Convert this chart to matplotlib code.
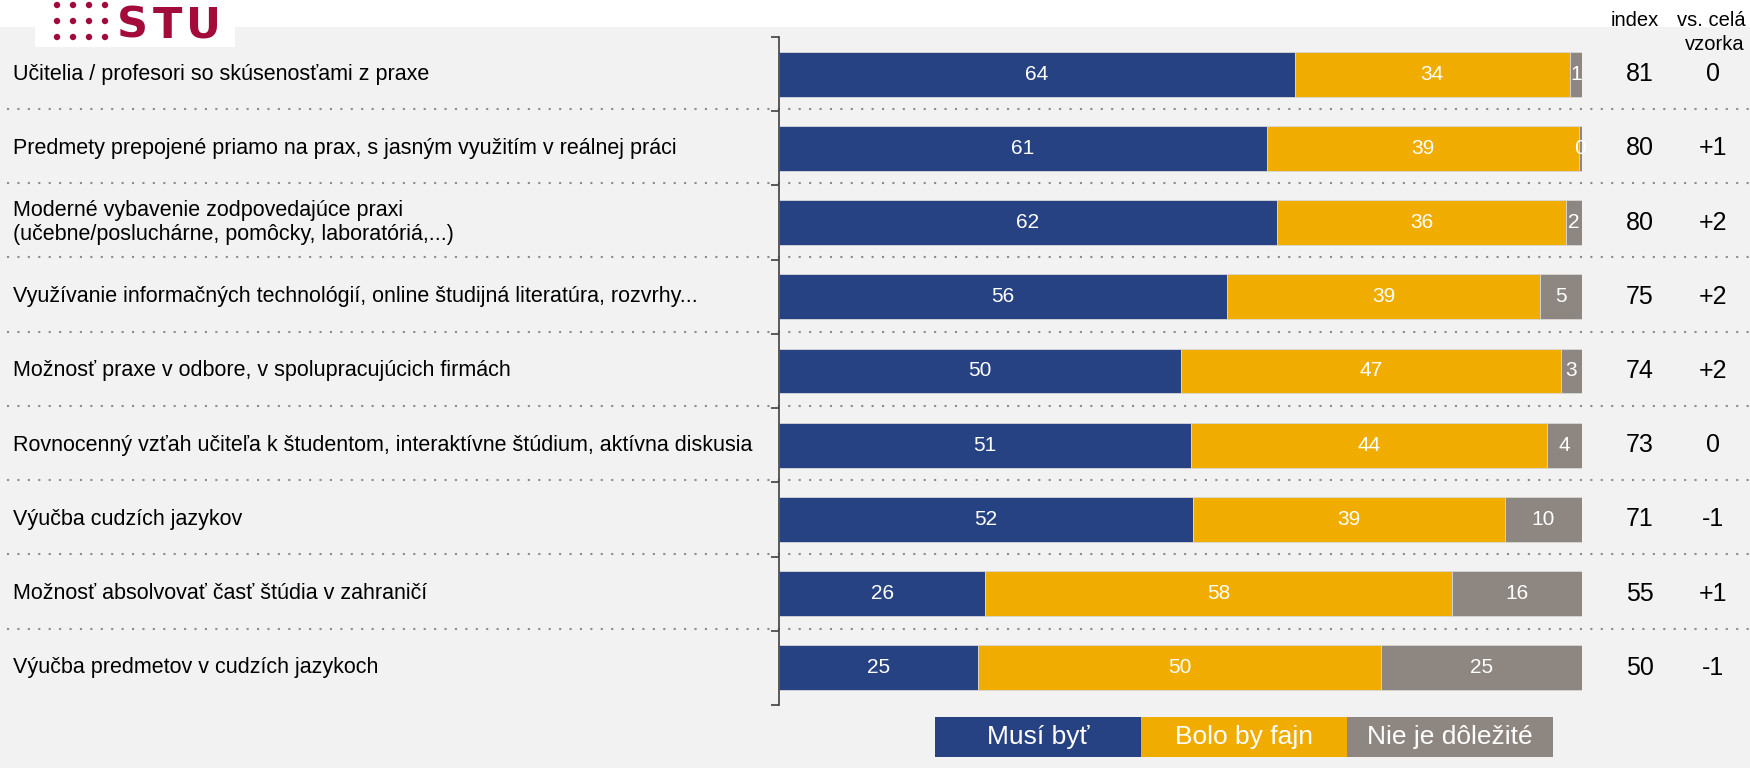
import matplotlib
matplotlib.use("Agg")
import matplotlib.pyplot as plt
from matplotlib.patches import Rectangle, Circle
from matplotlib.transforms import blended_transform_factory

plt.rcParams['font.family'] = ['Liberation Sans', 'DejaVu Sans']

categories = [
    "Učitelia / profesori so skúsenosťami z praxe",
    "Predmety prepojené priamo na prax, s jasným využitím v reálnej práci",
    "Moderné vybavenie zodpovedajúce praxi\n(učebne/posluchárne, pomôcky, laboratóriá,...)",
    "Využívanie informačných technológií, online študijná literatúra, rozvrhy...",
    "Možnosť praxe v odbore, v spolupracujúcich firmách",
    "Rovnocenný vzťah učiteľa k študentom, interaktívne štúdium, aktívna diskusia",
    "Výučba cudzích jazykov",
    "Možnosť absolvovať časť štúdia v zahraničí",
    "Výučba predmetov v cudzích jazykoch",
]
# bar widths (unrounded shares, %)
musi = [64.2, 60.8, 62.0, 55.8, 50.0, 51.3, 51.6, 25.7, 24.8]
bolo = [34.3, 38.8, 36.0, 39.0, 47.4, 44.3, 38.8, 58.1, 50.2]
nie = [1.5, 0.4, 2.0, 5.2, 2.6, 4.4, 9.6, 16.2, 25.0]
# printed labels
musi_lbl = [64, 61, 62, 56, 50, 51, 52, 26, 25]
bolo_lbl = [34, 39, 36, 39, 47, 44, 39, 58, 50]
nie_lbl = [1, 0, 2, 5, 3, 4, 10, 16, 25]
index_vals = [81, 80, 80, 75, 74, 73, 71, 55, 50]
vs_vals = ["0", "+1", "+2", "+2", "+2", "0", "-1", "+1", "-1"]
legend_labels = ["Musí byť", "Bolo by fajn", "Nie je dôležité"]

c_blue = "#264283"
c_yellow = "#f0ad00"
c_gray = "#8e8680"
colors = [c_blue, c_yellow, c_gray]

W, H = 1750, 768
fig = plt.figure(figsize=(W / 100, H / 100), dpi=100)
fig.patch.set_facecolor("#f2f2f2")

def fx(px):
    return px / W

def fy(py):
    return 1 - py / H

# background overlay in pixel coordinates
bg = fig.add_axes([0, 0, 1, 1], zorder=0)
bg.set_xlim(0, W)
bg.set_ylim(H, 0)
bg.axis("off")
bg.add_patch(Rectangle((0, 0), W, 27, facecolor="white", edgecolor="none"))
bg.add_patch(Rectangle((35, 0), 200, 47, facecolor="white", edgecolor="none"))
logo_c = "#a30b3b"
for cx in (57, 73, 89, 105):
    for cy in (5, 21, 37):
        bg.add_patch(Circle((cx, cy), 3.2, facecolor=logo_c, edgecolor="none"))
for letter, cx in zip("STU", (132, 167, 203)):
    bg.text(cx, 38, letter, ha="center", va="baseline", fontsize=31,
            fontweight="bold", color=logo_c, family=["DejaVu Sans"])

ax_left, ax_right, ax_top, ax_bot = 779, 1582, 37, 705
ax = fig.add_axes([fx(ax_left), fy(ax_bot), (ax_right - ax_left) / W, (ax_bot - ax_top) / H],
                  zorder=1)
ax.set_facecolor("none")
n = len(categories)
ypos = list(range(n))
bh = 0.605

left = [0.0] * n
for vals, lbls, col in zip((musi, bolo, nie), (musi_lbl, bolo_lbl, nie_lbl), colors):
    bars = ax.barh(ypos, vals, left=left, height=bh, color=col, edgecolor="#d8d8d8",
                   linewidth=0.6, zorder=2)
    for b, lb in zip(bars, lbls):
        ax.text(b.get_x() + b.get_width() / 2, b.get_y() + b.get_height() / 2, str(lb),
                ha="center", va="center", color="white", fontsize=15, zorder=3)
    left = [l + v for l, v in zip(left, vals)]

ax.set_xlim(0, 100)
ax.set_ylim(n - 0.5, -0.5)
for s in ("top", "right", "bottom"):
    ax.spines[s].set_visible(False)
ax.spines["left"].set_color("#404040")
ax.spines["left"].set_linewidth(1.2)
ax.set_xticks([])
ax.set_yticks([i - 0.5 for i in range(n + 1)])
ax.set_yticklabels([])
ax.tick_params(axis="y", length=6, width=1.2, color="#404040", direction="out")

trans = blended_transform_factory(fig.transFigure, ax.transData)
for i in range(n - 1):
    ax.plot([fx(7), 1.0], [i + 0.47, i + 0.47], transform=trans, clip_on=False,
            color="#8c8c8c", linewidth=1.5, linestyle=(0, (1, 4)), zorder=1)

for i, cat in enumerate(categories):
    ax.text(fx(13), i, cat, transform=trans, ha="left", va="center", fontsize=15.5,
            color="black", linespacing=1.2)
    ax.text(fx(1640), i, str(index_vals[i]), transform=trans, ha="center", va="center",
            fontsize=18, color="black")
    ax.text(fx(1713), i, vs_vals[i], transform=trans, ha="center", va="center",
            fontsize=18, color="black")

fig.text(fx(1635), fy(21), "index", ha="center", va="center", fontsize=14.5)
fig.text(fx(1711), fy(21), "vs. celá", ha="center", va="center", fontsize=14.5)
fig.text(fx(1715), fy(44), "vzorka", ha="center", va="center", fontsize=14.5)

# legend
lx = [935, 1141, 1347]
lw = 206
for x0, lab, col in zip(lx, legend_labels, colors):
    bg.add_patch(Rectangle((x0, 717), lw, 40, facecolor=col, edgecolor="none"))
    bg.text(x0 + lw / 2, 737, lab, ha="center", va="center", fontsize=19, color="white")

fig.savefig("out.png", dpi=100, facecolor=fig.get_facecolor())
